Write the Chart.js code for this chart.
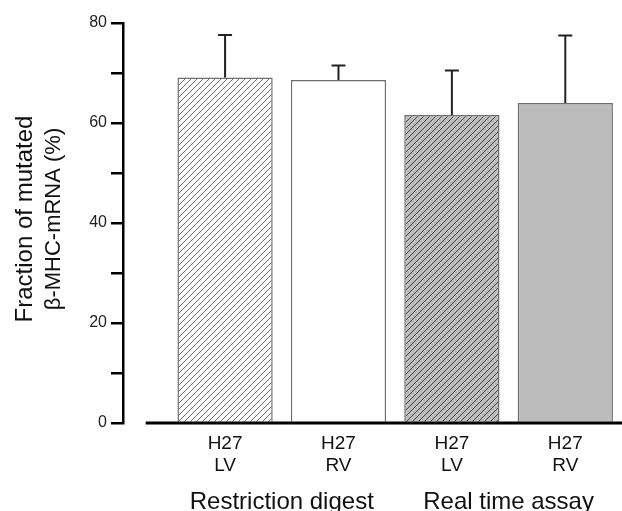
<!DOCTYPE html>
<html>
<head>
<meta charset="utf-8">
<script src="https://cdn.jsdelivr.net/npm/chart.js@4/dist/chart.umd.min.js"></script>
<style>
  html, body { margin: 0; padding: 0; background: #fff; }
  #wrap { width: 622px; height: 511px; }
</style>
</head>
<body>
<div id="wrap"><canvas id="chart" width="622" height="511"></canvas></div>
<script>
// Bars, left to right
const categories = [['H27', 'LV'], ['H27', 'RV'], ['H27', 'LV'], ['H27', 'RV']];
const values = [69.1, 68.6, 61.6, 64.0];
const errors = [8.5, 2.9, 8.9, 13.5];   // upper error (SD)
const groups = ['Restriction digest', 'Real time assay'];
const yTicks = [0, 20, 40, 60, 80];

const FONT = 'Arial, "Liberation Sans", sans-serif';

// Builds a diagonal hatch fill for a bar.
function hatch(bg, line) {
    const c = document.createElement('canvas');
    c.width = 6; c.height = 6;
    const g = c.getContext('2d');
    g.fillStyle = bg;
    g.fillRect(0, 0, 6, 6);
    g.strokeStyle = line;
    g.lineWidth = 1;
    g.beginPath();
    g.moveTo(-1, 7); g.lineTo(7, -1);
    g.moveTo(-1, 1); g.lineTo(1, -1);
    g.moveTo(5, 7); g.lineTo(7, 5);
    g.stroke();
    const ctx = document.getElementById('chart').getContext('2d');
    return ctx.createPattern(c, 'repeat');
}

const fills = [
    hatch('#ffffff', '#707070'),
    '#ffffff',
    hatch('#bdbdbd', '#454545'),
    '#bcbcbc'
];

// Upward error bars with caps.
const errorBars = {
    id: 'errorBars',
    afterDatasetsDraw(chart) {
        const { ctx, scales: { x, y } } = chart;
        ctx.save();
        ctx.strokeStyle = '#222';
        ctx.lineWidth = 2;
        values.forEach((v, i) => {
            const px = x.getPixelForValue(i);
            const top = y.getPixelForValue(v + errors[i]);
            ctx.beginPath();
            ctx.moveTo(px, y.getPixelForValue(v));
            ctx.lineTo(px, top);
            ctx.moveTo(px - 7, top);
            ctx.lineTo(px + 7, top);
            ctx.stroke();
        });
        ctx.restore();
    }
};

// Baseline, y-axis title and group labels.
const decorations = {
    id: 'decorations',
    afterDraw(chart) {
        const { ctx, scales: { x, y } } = chart;
        ctx.save();
        // thick baseline, separated from the y axis
        ctx.strokeStyle = '#000';
        ctx.lineWidth = 3;
        ctx.beginPath();
        ctx.moveTo(x.getPixelForValue(-0.7), y.getPixelForValue(0));
        ctx.lineTo(chart.width, y.getPixelForValue(0));
        ctx.stroke();

        // y title, two lines
        ctx.fillStyle = '#111';
        ctx.textAlign = 'center';
        ctx.textBaseline = 'middle';
        ctx.translate(0, 219);
        ctx.rotate(-Math.PI / 2);
        ctx.font = '24px ' + FONT;
        ctx.fillText('Fraction of mutated', 0, 25);
        ctx.font = '22px ' + FONT;
        ctx.fillText('\u03B2-MHC-mRNA (%)', 0, 54);
        ctx.restore();

        // group labels under the categories
        ctx.save();
        ctx.fillStyle = '#111';
        ctx.textAlign = 'center';
        ctx.textBaseline = 'middle';
        ctx.font = '24px ' + FONT;
        groups.forEach((g, i) => {
            ctx.fillText(g, x.getPixelForValue(i * 2 + 0.5), 502);
        });
        ctx.restore();
    }
};

new Chart(document.getElementById('chart'), {
    type: 'bar',
    data: {
        datasets: [{
            data: values.map((v, i) => ({ x: i, y: v })),
            backgroundColor: fills,
            borderColor: '#6f6f6f',
            borderWidth: 1.5,
            barPercentage: 0.84,
            categoryPercentage: 1
        }]
    },
    options: {
        responsive: false,
        animation: false,
        layout: { padding: { top: 23, right: 0, bottom: 0, left: 0 } },
        plugins: { legend: { display: false }, tooltip: { enabled: false } },
        scales: {
            x: {
                type: 'linear',
                offset: false,
                min: -0.9,
                max: 3.5,
                grid: { display: false, offset: false },
                border: { display: false },
                afterFit(scale) {
                    scale.height = 88;
                    scale.paddingLeft = 0;
                    scale.paddingRight = 0;
                },
                afterBuildTicks(scale) {
                    scale.ticks = categories.map((c, i) => ({ value: i }));
                },
                ticks: {
                    autoSkip: false,
                    maxRotation: 0,
                    padding: 2,
                    color: '#111',
                    font: { family: FONT, size: 19, lineHeight: 1.16 },
                    callback: (v) => categories[v] || ''
                }
            },
            y: {
                min: 0,
                max: 80,
                afterFit(scale) { scale.width = 123; },
                afterBuildTicks(scale) {
                    const t = [];
                    for (let v = 0; v <= 80; v += 10) t.push({ value: v });
                    scale.ticks = t;
                },
                border: { display: true, color: '#000', width: 2.5 },
                grid: { drawOnChartArea: false, color: '#000', lineWidth: 2.5, tickLength: 12 },
                ticks: {
                    padding: 4,
                    color: '#222',
                    font: { family: FONT, size: 16 },
                    callback: (v) => yTicks.includes(v) ? String(v) : ''
                }
            }
        }
    },
    plugins: [errorBars, decorations]
});
</script>
</body>
</html>
